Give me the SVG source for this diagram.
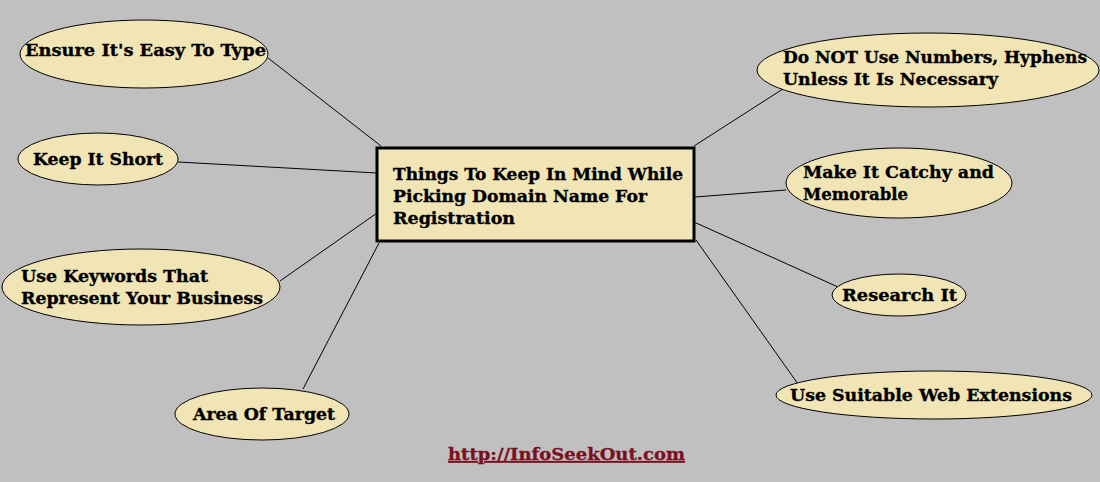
<svg xmlns="http://www.w3.org/2000/svg" width="1100" height="482" viewBox="0 0 1100 482">
<style>
.bg{fill:#c0c0c0}
.el{fill:#f1e5b5;stroke:#000;stroke-width:1}
.box{fill:#f1e5b5;stroke:#000;stroke-width:3}
.t{font-family:"DejaVu Serif","Liberation Serif",serif;font-weight:bold;font-size:17.5px;fill:#000;stroke:#000;stroke-width:0.35}
.c line{stroke:#000;stroke-width:1}
.url{font-family:"DejaVu Serif","Liberation Serif",serif;font-weight:bold;font-size:17.5px;fill:#7a0f1f;stroke:#7a0f1f;stroke-width:0.3;text-decoration:underline}
</style>
<rect class="bg" x="0" y="0" width="1100" height="482"/>
<g class="c" id="connectors">
<line x1="268" y1="58" x2="381" y2="146"/>
<line x1="178" y1="162" x2="377" y2="173"/>
<line x1="280" y1="281" x2="377" y2="213"/>
<line x1="303" y1="389" x2="379" y2="243"/>
<line x1="694" y1="146" x2="786" y2="87"/>
<line x1="695" y1="197" x2="786" y2="190"/>
<line x1="694" y1="222" x2="838" y2="287"/>
<line x1="696" y1="240" x2="798" y2="384"/>
</g>
<g id="center">
<rect class="box" x="377" y="148" width="317" height="93"/>
<text class="t" x="393" y="180" textLength="290" lengthAdjust="spacingAndGlyphs">Things To Keep In Mind While</text>
<text class="t" x="393" y="202" textLength="254" lengthAdjust="spacingAndGlyphs">Picking Domain Name For</text>
<text class="t" x="393" y="224" textLength="122" lengthAdjust="spacingAndGlyphs">Registration</text>
</g>
<g id="n-easy">
<ellipse class="el" cx="144" cy="54" rx="124" ry="34"/>
<text class="t" x="25" y="56" textLength="241" lengthAdjust="spacingAndGlyphs">Ensure It's Easy To Type</text>
</g>
<g id="n-short">
<ellipse class="el" cx="98" cy="159" rx="80" ry="26"/>
<text class="t" x="33" y="165" textLength="130" lengthAdjust="spacingAndGlyphs">Keep It Short</text>
</g>
<g id="n-keywords">
<ellipse class="el" cx="141" cy="287" rx="139" ry="38"/>
<text class="t" x="21" y="282" textLength="187" lengthAdjust="spacingAndGlyphs">Use Keywords That</text>
<text class="t" x="21" y="304" textLength="242" lengthAdjust="spacingAndGlyphs">Represent Your Business</text>
</g>
<g id="n-area">
<ellipse class="el" cx="262" cy="414" rx="87" ry="26"/>
<text class="t" x="193" y="420" textLength="142" lengthAdjust="spacingAndGlyphs">Area Of Target</text>
</g>
<g id="n-numbers">
<ellipse class="el" cx="928" cy="70" rx="171" ry="37"/>
<text class="t" x="783" y="63" textLength="304" lengthAdjust="spacingAndGlyphs">Do NOT Use Numbers, Hyphens</text>
<text class="t" x="783" y="85" textLength="215" lengthAdjust="spacingAndGlyphs">Unless It Is Necessary</text>
</g>
<g id="n-catchy">
<ellipse class="el" cx="899" cy="183" rx="113" ry="35"/>
<text class="t" x="803" y="178" textLength="191" lengthAdjust="spacingAndGlyphs">Make It Catchy and</text>
<text class="t" x="803" y="200" textLength="105" lengthAdjust="spacingAndGlyphs">Memorable</text>
</g>
<g id="n-research">
<ellipse class="el" cx="899" cy="295" rx="67" ry="21"/>
<text class="t" x="842" y="301" textLength="115" lengthAdjust="spacingAndGlyphs">Research It</text>
</g>
<g id="n-ext">
<ellipse class="el" cx="934" cy="395" rx="158" ry="24"/>
<text class="t" x="790" y="401" textLength="282" lengthAdjust="spacingAndGlyphs">Use Suitable Web Extensions</text>
</g>
<text class="url" x="448" y="460" textLength="237" lengthAdjust="spacingAndGlyphs">http://InfoSeekOut.com</text>
</svg>
